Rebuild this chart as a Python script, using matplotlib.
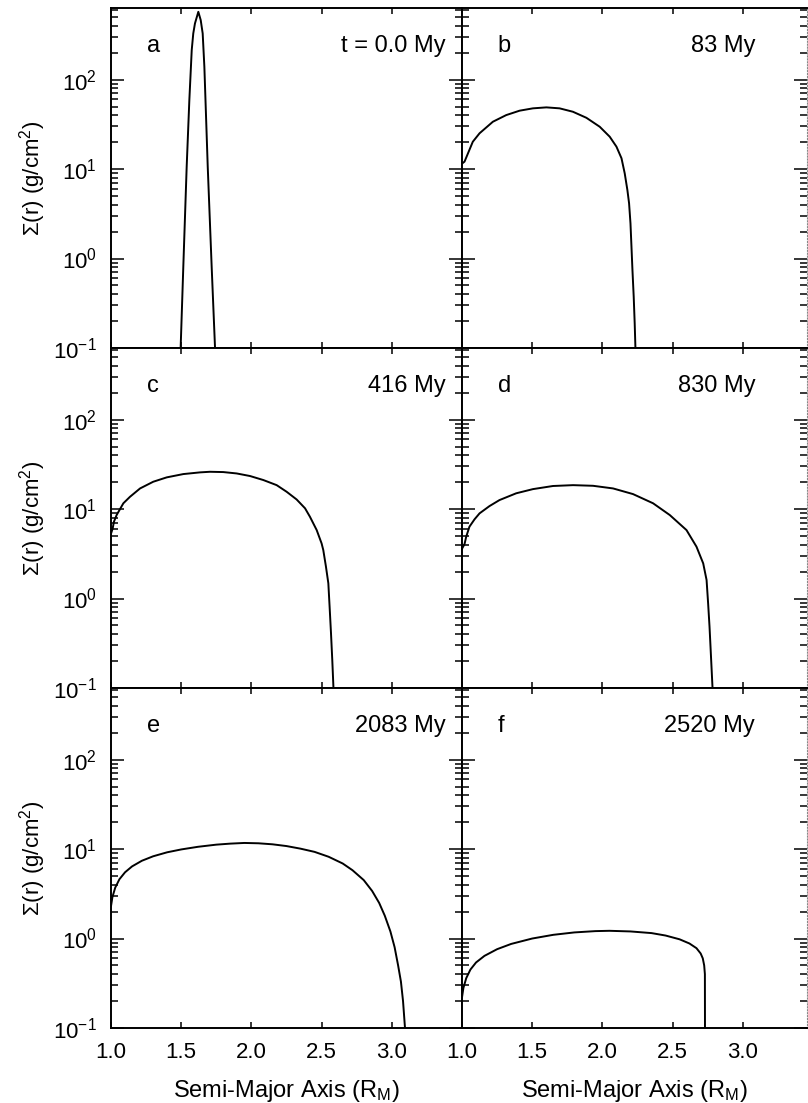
import numpy as np
import matplotlib

matplotlib.use("Agg")
import matplotlib.pyplot as plt
from matplotlib.ticker import FixedLocator, LogLocator, NullFormatter

plt.rcParams.update(
    {
        "font.family": ["Liberation Sans", "DejaVu Sans"],
        "mathtext.fontset": "custom",
        "mathtext.rm": "Liberation Sans",
        "mathtext.it": "Liberation Sans:italic",
        "mathtext.default": "regular",
        "font.size": 16,
    }
)

# surface density profiles, Sigma(r) in g/cm^2 vs semi-major axis in R_M
r_a = [1.47, 1.496, 1.515, 1.539, 1.558, 1.575, 1.586, 1.598, 1.622,
       1.639, 1.653, 1.665, 1.689, 1.717, 1.741, 1.75]
sig_a = [0.03, 0.1, 0.81, 10.6, 59, 214, 328, 424, 572,
         462, 328, 139, 10.6, 0.81, 0.1, 0.05]

r_b = [1.0, 1.018, 1.077, 1.125, 1.220, 1.315, 1.410, 1.505, 1.601, 1.695,
       1.790, 1.886, 1.981, 2.052, 2.100, 2.136, 2.159, 2.178, 2.190, 2.200,
       2.207, 2.214, 2.223, 2.230, 2.235, 2.237]
sig_b = [11.5, 12.1, 20.2, 25.1, 33.8, 40.1, 44.9, 47.7, 48.9, 47.7,
         43.7, 37.4, 29.7, 23.0, 17.8, 13.2, 8.95, 5.82, 4.14, 2.47,
         1.36, 0.745, 0.374, 0.189, 0.103, 0.05]

r_c = [1.0, 1.012, 1.021, 1.040, 1.088, 1.135, 1.207, 1.301, 1.397, 1.515,
       1.634, 1.705, 1.800, 1.895, 1.990, 2.085, 2.180, 2.251, 2.322, 2.382,
       2.417, 2.465, 2.500, 2.512, 2.531, 2.548, 2.557, 2.567, 2.576, 2.584,
       2.586]
sig_c = [5.3, 6.08, 7.22, 8.57, 11.6, 13.7, 17.0, 20.2, 22.6, 24.6,
         25.7, 26.1, 25.9, 25.0, 23.4, 21.1, 18.5, 15.6, 12.8, 10.2,
         8.2, 5.82, 4.13, 3.48, 2.27, 1.48, 0.811, 0.408, 0.206, 0.104,
         0.05]

r_d = [1.0, 1.018, 1.030, 1.053, 1.089, 1.125, 1.196, 1.267, 1.386, 1.505,
       1.648, 1.791, 1.933, 2.076, 2.218, 2.361, 2.480, 2.599, 2.670, 2.718,
       2.742, 2.753, 2.763, 2.770, 2.777, 2.784, 2.786]
sig_d = [3.6, 4.06, 4.91, 6.35, 7.67, 8.95, 10.8, 12.6, 15.0, 16.7,
         18.1, 18.5, 18.2, 17.0, 14.7, 11.6, 8.57, 5.82, 3.80, 2.47,
         1.61, 0.883, 0.484, 0.290, 0.173, 0.103, 0.05]

r_e = [1.0, 1.01, 1.03, 1.06, 1.1, 1.15, 1.22, 1.3, 1.4, 1.5, 1.62, 1.75,
       1.85, 1.95, 2.05, 2.15, 2.25, 2.35, 2.45, 2.55, 2.65, 2.72, 2.8,
       2.86, 2.91, 2.95, 2.99, 3.02, 3.045, 3.065, 3.08, 3.094, 3.1]
sig_e = [2.3, 2.9, 3.7, 4.6, 5.5, 6.4, 7.4, 8.3, 9.2, 9.9, 10.6, 11.2,
         11.5, 11.7, 11.6, 11.3, 10.8, 10.1, 9.3, 8.2, 6.9, 5.8, 4.5,
         3.4, 2.5, 1.8, 1.2, 0.8, 0.5, 0.33, 0.2, 0.1, 0.05]

r_f = [1.0, 1.01, 1.03, 1.06, 1.1, 1.16, 1.25, 1.35, 1.5, 1.65, 1.8, 1.95,
       2.05, 2.2, 2.35, 2.45, 2.55, 2.62, 2.67, 2.7, 2.715, 2.725, 2.73,
       2.731]
sig_f = [0.22, 0.28, 0.36, 0.45, 0.54, 0.64, 0.76, 0.87, 1.0, 1.1, 1.17,
         1.21, 1.22, 1.2, 1.15, 1.08, 0.98, 0.88, 0.78, 0.68, 0.6, 0.5,
         0.4, 0.05]

panel_letters = ["a", "b", "c", "d", "e", "f"]
panel_times = ["t = 0.0 My", "83 My", "416 My", "830 My", "2083 My", "2520 My"]
profiles = [(r_a, sig_a), (r_b, sig_b), (r_c, sig_c),
            (r_d, sig_d), (r_e, sig_e), (r_f, sig_f)]

yticks = [0.1, 1, 10, 100]
yticklabels = ["$10^{-1}$", "$10^{0}$", "$10^{1}$", "$10^{2}$"]
xticks = [1.0, 1.5, 2.0, 2.5, 3.0]
xticklabels = ["1.0", "1.5", "2.0", "2.5", "3.0"]

W, H = 808, 1103
PX_PER_UNIT = 140.4
fig = plt.figure(figsize=(W / 100, H / 100), dpi=100)

cols = [(111, 462), (462, 807)]
for i, (rr, ss) in enumerate(profiles):
    row, col = divmod(i, 2)
    x0, x1 = cols[col]
    top = 8 + 340 * row
    ax = fig.add_axes([x0 / W, 1 - (top + 340) / H, (x1 - x0) / W, 340 / H])
    ax.plot(rr, ss, color="black", lw=1.4)
    ax.set_yscale("log")
    ax.set_ylim(0.1, 10 ** 2.8)
    ax.set_xlim(1.0, 1.0 + (x1 - x0) / PX_PER_UNIT)

    ax.yaxis.set_major_locator(FixedLocator(yticks))
    ax.yaxis.set_minor_locator(LogLocator(base=10, subs=np.arange(2, 10), numticks=30))
    ax.yaxis.set_minor_formatter(NullFormatter())
    ax.set_xticks(xticks)

    ax.tick_params(axis="y", which="major", direction="in", length=9.5, width=1.1,
                   left=True, right=True, pad=10)
    ax.tick_params(axis="y", which="minor", direction="in", length=5, width=1.1,
                   left=True, right=True)
    ax.tick_params(axis="x", which="major", direction="in", length=4.3, width=1.1,
                   top=True, bottom=True, pad=10)
    for sp in ax.spines.values():
        sp.set_linewidth(1.4)

    if col == 0:
        ax.set_yticklabels(yticklabels)
        ax.set_ylabel("Σ(r) (g/cm$^2$)", labelpad=4)
    else:
        ax.set_yticklabels([])
        ax.spines["right"].set_linestyle(":")
        ax.spines["right"].set_color("#888888")
        ax.spines["right"].set_linewidth(0.8)
    if row == 2:
        ax.set_xticklabels(xticklabels)
        ax.set_xlabel("Semi-Major Axis (R$_M$)", fontsize=17, labelpad=11)
    else:
        ax.set_xticklabels([])

    tx = 0.954 if col == 0 else 0.85
    ax.text(0.103, 0.871, panel_letters[i], transform=ax.transAxes,
            ha="left", va="baseline", fontsize=17)
    ax.text(tx, 0.871, panel_times[i], transform=ax.transAxes,
            ha="right", va="baseline", fontsize=17)

fig.savefig("out.png", dpi=100, facecolor="white")
